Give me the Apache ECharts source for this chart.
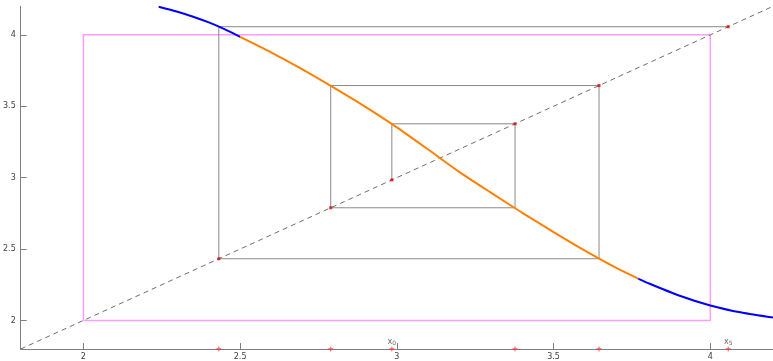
<!DOCTYPE html>
<html>
<head>
<meta charset="utf-8">
<script src="https://cdn.jsdelivr.net/npm/echarts@6/dist/echarts.min.js"></script>
<style>
  html, body { margin: 0; padding: 0; background: #fff; }
  #chart { width: 773px; height: 361px; }
</style>
</head>
<body>
<div id="chart"></div>
<script>
// Axis ranges and tick labels
const axisMin = 1.8;
const axisMax = 4.2;
const xTicks = [2, 2.5, 3, 3.5, 4];
const yTicks = [2, 2.5, 3, 3.5, 4];

// Sampled map y = f(x)
const curveX = [2.24, 2.3, 2.35, 2.4, 2.45, 2.5, 2.6, 2.7, 2.8, 2.9, 3.0, 3.1, 3.2, 3.3, 3.4, 3.5, 3.6, 3.7, 3.77, 3.8, 3.9, 4.0, 4.1, 4.2];
const curveY = [4.197, 4.162, 4.127, 4.087, 4.040, 3.986, 3.876, 3.757, 3.629, 3.496, 3.352, 3.197, 3.039, 2.895, 2.754, 2.619, 2.489, 2.368, 2.293, 2.263, 2.175, 2.105, 2.055, 2.02];

// Highlighted part of the map
const hiFrom = 2.5;
const hiTo = 3.77;

// Invariant box corners
const boxLo = 2;
const boxHi = 4;

// Iterates x0 .. x5
const orbit = [2.984, 3.377, 2.789, 3.645, 2.432, 4.057];
const labeledIter = [0, 5];

const curve = curveX.map((x, i) => [x, curveY[i]]);
const curveLeft = curve.filter(p => p[0] <= hiFrom);
const curveHi = curve.filter(p => p[0] >= hiFrom && p[0] <= hiTo);
const curveRight = curve.filter(p => p[0] >= hiTo);

const box = [[boxLo, boxLo], [boxHi, boxLo], [boxHi, boxHi], [boxLo, boxHi], [boxLo, boxLo]];

// Cobweb staircase: (x_k, x_k) -> (x_k, x_{k+1}) -> (x_{k+1}, x_{k+1})
const web = [[orbit[0], orbit[0]]];
for (let k = 0; k < orbit.length - 1; k++) {
  web.push([orbit[k], orbit[k + 1]]);
  web.push([orbit[k + 1], orbit[k + 1]]);
}

const diagPts = orbit.map(v => [v, v]);
const axisPts = orbit.map(v => [v, axisMin]);
const tagPts = labeledIter.map(k => ({ value: [orbit[k], axisMin], idx: k }));

const plus = 'path://M0,2L4,2L4,0L6,0L6,2L10,2L10,4L6,4L6,6L4,6L4,4L0,4Z';

const axisGray = '#7f7f7f';
const labelFont = { fontSize: 8, color: '#404040', fontFamily: 'DejaVu Sans' };

const curveLine = (data, color, z) => ({
  type: 'line', data, symbol: 'none', smooth: 0.25, z,
  lineStyle: { color, width: 2 }
});

const chart = echarts.init(document.getElementById('chart'), null, { renderer: 'canvas' });
chart.setOption({
  animation: false,
  backgroundColor: '#ffffff',
  grid: { left: 19, right: -2, top: 6.3, bottom: 10.3 },
  xAxis: {
    type: 'value', min: axisMin, max: axisMax,
    splitLine: { show: false },
    axisLine: { show: true, onZero: false, lineStyle: { color: axisGray, width: 1 } },
    axisTick: { show: true, inside: true, length: 6, customValues: xTicks, lineStyle: { color: axisGray } },
    axisLabel: Object.assign({ customValues: xTicks, margin: 4 }, labelFont)
  },
  yAxis: {
    type: 'value', min: axisMin, max: axisMax,
    splitLine: { show: false },
    axisLine: { show: true, onZero: false, lineStyle: { color: axisGray, width: 1 } },
    axisTick: { show: true, inside: true, length: 6, customValues: yTicks, lineStyle: { color: axisGray } },
    axisLabel: Object.assign({ customValues: yTicks, margin: 5 }, labelFont)
  },
  series: [
    {
      type: 'line', data: box, symbol: 'none', z: 1,
      lineStyle: { color: '#ff9cff', width: 1.5 }
    },
    {
      type: 'line', data: web, symbol: 'none', z: 2,
      lineStyle: { color: '#8a8a8a', width: 1 }
    },
    {
      type: 'line', data: [[axisMin, axisMin], [axisMax, axisMax]], symbol: 'none', z: 3,
      lineStyle: { color: '#6e6e6e', width: 1, type: [5, 4] }
    },
    curveLine(curveLeft, '#0000ff', 4),
    curveLine(curveRight, '#0000ff', 4),
    curveLine(curveHi, '#ff8000', 5),
    {
      type: 'scatter', data: diagPts, symbol: 'rect', symbolSize: 3, z: 6,
      itemStyle: { color: '#e00000' }
    },
    {
      type: 'scatter', data: axisPts, symbol: plus, symbolSize: 5, z: 6, clip: false,
      itemStyle: { color: '#ff3030' }
    },
    {
      type: 'scatter', data: tagPts, symbolSize: 0, z: 7, clip: false,
      label: {
        show: true, position: 'top', distance: 0,
        formatter: p => '{a|x}{b|' + p.data.idx + '}',
        rich: {
          a: { fontSize: 8, color: '#404040', fontFamily: 'DejaVu Sans', padding: [0, 0, 3, 0] },
          b: { fontSize: 6, color: '#404040', fontFamily: 'DejaVu Sans', padding: [0, 0, 0, 0] }
        }
      }
    }
  ]
});
</script>
</body>
</html>
